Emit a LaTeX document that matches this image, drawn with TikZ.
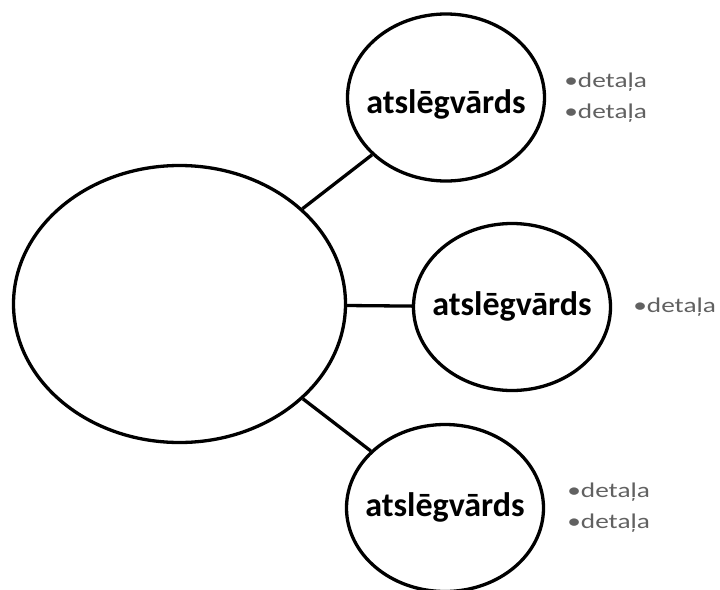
\documentclass[tikz,border=0pt]{standalone}
\usepackage{fontspec}
\setmainfont{Carlito}
\newfontfamily\detailfont[FakeStretch=1.3]{Carlito}
\usepackage{tikz}
\usepackage{xcolor}
\usetikzlibrary{shapes.geometric, positioning}
\definecolor{detailgray}{gray}{0.38}
\newcommand{\kw}[2][0pt]{\makebox[0pt]{\raisebox{#1}{#2}}}

\begin{document}
\begin{tikzpicture}[x=1pt, y=-1pt,
    bubble/.style={draw, ellipse, line width=3.3pt, inner sep=0pt},
    keyword/.style={bubble, minimum width=197pt, minimum height=167pt,
        text height=24pt, text depth=7pt,
        font=\fontsize{34}{40}\selectfont\bfseries},
    detail/.style={text=detailgray, align=left, inner sep=0pt,
        font=\detailfont\fontsize{21}{31}\selectfont},
    link/.style={line width=3.3pt}]
\useasboundingbox (0,0) rectangle (720,589);

\node[bubble, minimum width=332pt, minimum height=277pt] (main) at (179.5,304) {};

\node[keyword] (k1) at (446,97.5) {\kw[-7pt]{atslēgvārds}};
\node[keyword] (k2) at (512,307) {\kw{atslēgvārds}};
\node[keyword] (k3) at (445,508) {\kw{atslēgvārds}};

\draw[link] (main) -- (k1);
\draw[link] (main) -- (k2);
\draw[link] (main) -- (k3);

\node[detail, right=18pt of k1] (d1) {•detaļa\\•detaļa};
\node[detail, right=21pt of k2] (d2) {•detaļa};
\node[detail, right=22pt of k3] (d3) {•detaļa\\•detaļa};
\end{tikzpicture}
\end{document}
